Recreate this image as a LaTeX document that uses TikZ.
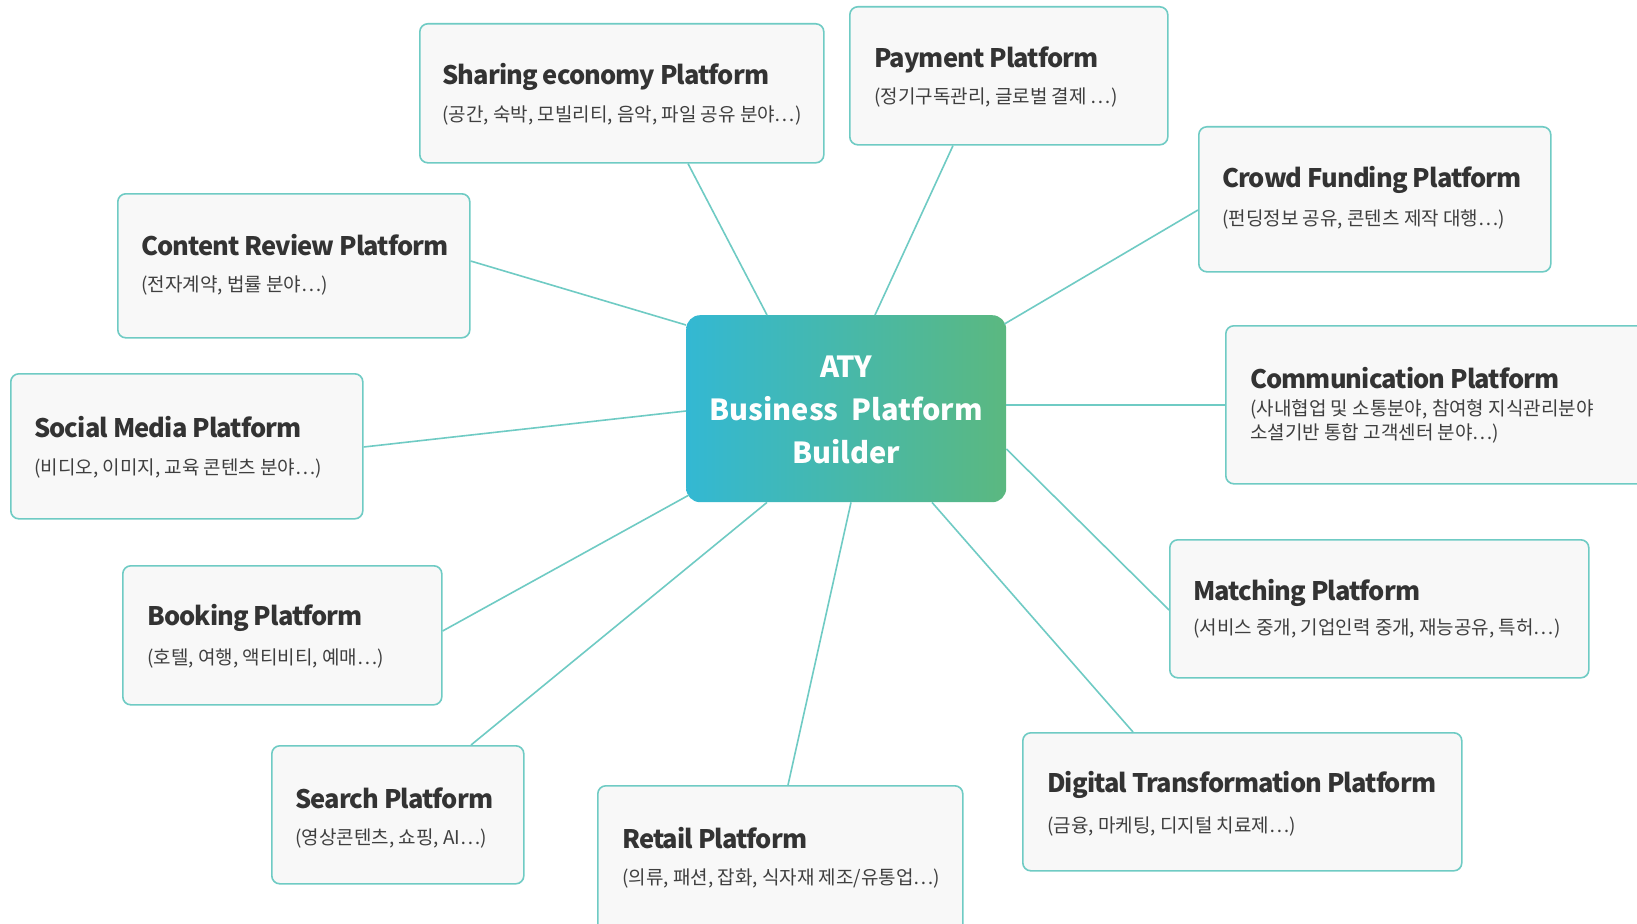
\documentclass[tikz,border=0pt]{standalone}
\usepackage{fontspec}
\setmainfont{Noto Sans CJK KR}
\newfontfamily\tfont{Noto Sans CJK KR}[LetterSpace=-3.5]
\usetikzlibrary{calc}
\definecolor{edge}{HTML}{6FCBC4}
\definecolor{boxfill}{HTML}{F8F8F8}
\definecolor{titlecol}{HTML}{333333}
\definecolor{subcol}{HTML}{3F3F3F}
\definecolor{gradL}{HTML}{33B8D3}
\definecolor{gradR}{HTML}{5BB880}
\tikzset{
  pbox/.style={draw=edge, line width=1.6pt, fill=boxfill, rounded corners=8pt, anchor=north west, inner sep=0pt},
  ptitle/.style={anchor=west, inner sep=0pt, text=titlecol, font=\tfont\fontsize{25.5}{30}\selectfont\bfseries},
  psub/.style={anchor=west, inner sep=0pt, text=subcol, font=\fontsize{19}{24}\selectfont, align=left},
  link/.style={draw=edge, line width=1.6pt},
  hub/.style={rounded corners=14pt, anchor=north west, inner sep=0pt, left color=gradL, right color=gradR}
}
\begin{document}
\begin{tikzpicture}[x=1pt,y=-1pt]
\useasboundingbox (0,0) rectangle (1637,923);
\fill[white] (0,0) rectangle (1637,923);
% hub
\node[hub, minimum width=320pt, minimum height=187pt] (hub) at (686,315) {};
\node[inner sep=0pt, text=white, align=center, font=\fontsize{29}{43}\selectfont\bfseries] (hubtext) at ($(hub.center)+(0,1)$) {ATY\\Business\ \ Platform\\Builder};
% boxes
\node[pbox, minimum width=404pt, minimum height=139pt] (sharing) at (419,23) {};
\node[pbox, minimum width=318pt, minimum height=138pt] (payment) at (849,6) {};
\node[pbox, minimum width=352pt, minimum height=145pt] (crowd) at (1198,126) {};
\node[pbox, minimum width=420pt, minimum height=158pt] (comm) at (1225,325) {};
\node[pbox, minimum width=419pt, minimum height=138pt] (match) at (1169,539) {};
\node[pbox, minimum width=439pt, minimum height=138pt] (digital) at (1022,732) {};
\node[pbox, minimum width=365pt, minimum height=150pt] (retail) at (597,785) {};
\node[pbox, minimum width=252pt, minimum height=138pt] (search) at (271,745) {};
\node[pbox, minimum width=319pt, minimum height=139pt] (booking) at (122,565) {};
\node[pbox, minimum width=352pt, minimum height=145pt] (social) at (10,373) {};
\node[pbox, minimum width=352pt, minimum height=144pt] (content) at (117,193) {};
% texts
\node[ptitle] (sharingT) at ($(sharing.north west)+(23,54)$) {Sharing economy Platform};
\node[psub] (sharingS) at ($(sharing.north west)+(23,93)$) {(공간, 숙박, 모빌리티, 음악, 파일 공유 분야…)};
\node[ptitle] (paymentT) at ($(payment.north west)+(25,54)$) {Payment Platform};
\node[psub] (paymentS) at ($(payment.north west)+(25,92)$) {(정기구독관리, 글로벌 결제 …)};
\node[ptitle] (crowdT) at ($(crowd.north west)+(24,54)$) {Crowd Funding Platform};
\node[psub] (crowdS) at ($(crowd.north west)+(24,94)$) {(펀딩정보 공유, 콘텐츠 제작 대행…)};
\node[ptitle] (commT) at ($(comm.north west)+(25,53)$) {Communication Platform};
\node[psub, anchor=north west] (commS) at ($(comm.north west)+(25,74)$) {(사내협업 및 소통분야, 참여형 지식관리분야\\소셜기반 통합 고객센터 분야…)};
\node[ptitle] (matchT) at ($(match.north west)+(24,54)$) {Matching Platform};
\node[psub] (matchS) at ($(match.north west)+(24,89)$) {(서비스 중개, 기업인력 중개, 재능공유, 특허…)};
\node[ptitle] (digitalT) at ($(digital.north west)+(25,53)$) {Digital Transformation Platform};
\node[psub] (digitalS) at ($(digital.north west)+(25,94)$) {(금융, 마케팅, 디지털 치료제…)};
\node[ptitle] (retailT) at ($(retail.north west)+(25,53)$) {Retail Platform};
\node[psub] (retailS) at ($(retail.north west)+(25,93)$) {(의류, 패션, 잡화, 식자재 제조/유통업…)};
\node[ptitle] (searchT) at ($(search.north west)+(24,53)$) {Search Platform};
\node[psub] (searchS) at ($(search.north west)+(24,93)$) {(영상콘텐츠, 쇼핑, AI…)};
\node[ptitle] (bookingT) at ($(booking.north west)+(25,53)$) {Booking Platform};
\node[psub] (bookingS) at ($(booking.north west)+(25,93)$) {(호텔, 여행, 액티비티, 예매…)};
\node[ptitle] (socialT) at ($(social.north west)+(24,54)$) {Social Media Platform};
\node[psub] (socialS) at ($(social.north west)+(24,95)$) {(비디오, 이미지, 교육 콘텐츠 분야…)};
\node[ptitle] (contentT) at ($(content.north west)+(24,52)$) {Content Review Platform};
\node[psub] (contentS) at ($(content.north west)+(24,93)$) {(전자계약, 법률 분야…)};
% connectors
\draw[link] ($(hub.north west)+(81,0)$) -- ($(sharing.south west)+(269,0)$);
\draw[link] ($(hub.north west)+(189,0)$) -- ($(payment.south west)+(104,0)$);
\draw[link] ($(hub.north east)+(-2,9)$) -- ($(crowd.north west)+(0,84)$);
\draw[link] ($(hub.north east)+(0,90)$) -- ($(comm.north west)+(0,80)$);
\draw[link] ($(hub.north east)+(0,134)$) -- ($(match.north west)+(0,71)$);
\draw[link] ($(hub.south west)+(246,0)$) -- ($(digital.north west)+(111,0)$);
\draw[link] ($(hub.south west)+(165,0)$) -- ($(retail.north west)+(191,0)$);
\draw[link] ($(hub.south west)+(81,0)$) -- ($(search.north west)+(200,0)$);
\draw[link] ($(hub.north west)+(3,180)$) -- ($(booking.north east)+(0,66)$);
\draw[link] ($(hub.north west)+(0,96)$) -- ($(social.north east)+(0,74)$);
\draw[link] ($(hub.north west)+(0,10)$) -- ($(content.north east)+(0,68)$);
\end{tikzpicture}
\end{document}
